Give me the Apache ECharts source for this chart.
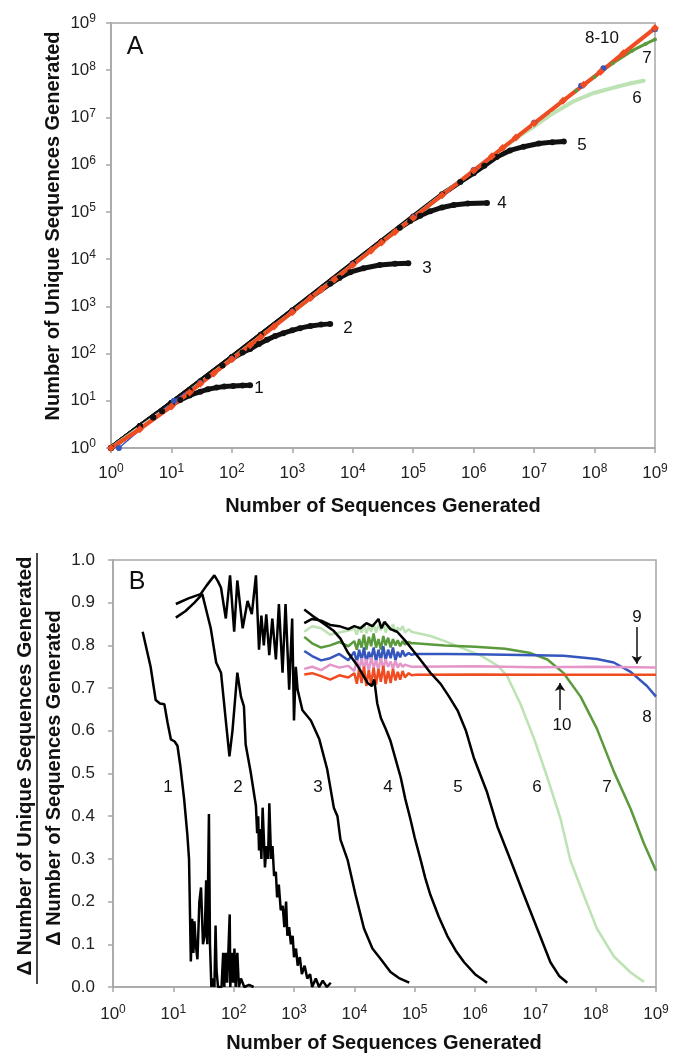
<!DOCTYPE html>
<html>
<head>
<meta charset="utf-8">
<script src="https://cdn.jsdelivr.net/npm/echarts@6.0.0/dist/echarts.min.js"></script>
<style>
  html, body { margin: 0; padding: 0; background: #fff; }
  #main { width: 676px; height: 1055px; }
</style>
</head>
<body>
<div id="main"></div>
<script>
// ---- panel A: unique sequences vs sequences generated (log-log) ----
var a1 = [[3, 2.9], [5, 4.4], [7, 6], [10, 8.3], [14, 10.4], [20, 13], [30, 15.6], [40, 17.5], [56, 19], [75, 20], [105, 20.5], [150, 21], [200, 21.3]];
var a2 = [[1, 1], [3, 2.9], [5, 4.5], [10, 9], [20, 17], [40, 33], [70, 56], [100, 78], [150, 105], [200, 125], [280, 160], [380, 195], [520, 235], [710, 270], [1000, 310], [1340, 345], [2000, 385], [3000, 410], [4230, 425]];
var a3 = [[1, 1], [3, 2.9], [10, 9], [30, 26], [100, 84], [300, 250], [1000, 810], [2000, 1550], [4230, 3000], [6000, 4000], [9100, 5300], [15000, 6400], [28000, 7500], [50000, 8000], [83000, 8200]];
var a4 = [[1, 1], [3, 2.9], [10, 9], [100, 84], [1000, 820], [10000, 8100], [30000, 24000], [60000, 46000], [89000, 64000], [130000, 83000], [191000, 103000], [300000, 124000], [468000, 140000], [800000, 150000], [1660000, 155000]];
var a5 = [[1, 1], [3, 2.9], [10, 9], [100, 84], [1000, 820], [10000, 8100], [100000, 80000], [300000, 235000], [600000, 430000], [1000000, 660000], [1500000, 950000], [2400000, 1450000], [4000000, 2000000], [6700000, 2400000], [12000000, 2800000], [20000000, 3000000], [31000000, 3100000]];
var a6 = [[1, 1], [10, 8], [100, 77], [1000, 760], [10000, 7600], [100000, 76000], [1000000, 760000], [5000000, 3600000], [10000000, 6500000], [20000000, 12000000], [45000000, 22000000], [97000000, 33000000], [240000000, 45000000], [400000000, 53000000], [650000000, 60000000]];
var a7 = [[1, 1], [10, 7.5], [100, 75], [1000, 750], [10000, 7500], [100000, 75000], [1000000, 750000], [10000000, 7500000], [50000000, 37000000], [100000000, 72000000], [200000000, 140000000], [420000000, 260000000], [700000000, 360000000], [1000000000, 450000000]];
var a8 = [[1.35, 1], [11, 10], [30, 24], [100, 78], [1000, 770], [10000, 7700], [100000, 77000], [1000000, 770000], [10000000, 7700000], [60000000, 47000000], [140000000, 110000000], [1000000000, 740000000]];
var a9 = [[1, 1], [10, 8.2], [100, 77], [1000, 760], [10000, 7600], [100000, 76000], [1000000, 760000], [10000000, 7600000], [100000000, 76000000], [1000000000, 750000000]];
var a10 = [[1, 1], [3, 2.5], [10, 7.6], [20, 15], [30, 23], [50, 38], [100, 76], [200, 150], [300, 225], [500, 375], [1000, 750], [2000, 1500], [3000, 2250], [5000, 3750], [10000, 7500], [20000, 15000], [30000, 22500], [50000, 37500], [100000, 75000], [300000, 225000], [1000000, 750000], [2000000, 1500000], [3000000, 2250000], [5000000, 3750000], [10000000, 7500000], [30000000, 22500000], [66000000, 49000000], [126000000, 93000000], [300000000, 230000000], [1000000000, 780000000]];

// ---- panel B: slope of the curves above ----
var b1 = [[3.1, 0.832], [4.2, 0.75], [5.1, 0.672], [6, 0.664], [7.1, 0.662], [8, 0.62], [9.1, 0.58], [10.5, 0.575], [11.7, 0.565], [13, 0.52], [15.1, 0.44], [17, 0.36], [18.2, 0.3], [19, 0.15], [19.5, 0.06], [20.5, 0.16], [21.5, 0.08], [22.4, 0.154], [23.5, 0.1], [25.1, 0.065], [27, 0.2], [28.8, 0.233], [30, 0.16], [31, 0.1], [33.1, 0.12], [35, 0.25], [36.5, 0.1], [38.9, 0.405], [40.5, 0.1], [42.7, 0], [46, 0.02], [48, 0], [50.1, 0.144], [52, 0.04], [55, 0], [63, 0], [67, 0.08], [70, 0], [74, 0.08], [78, 0.01], [82, 0.09], [86, 0.17], [88, 0], [93, 0.08], [98, 0.01], [103, 0.09], [108, 0], [115, 0.08], [122, 0], [132, 0.02], [150, 0], [180, 0.005], [214, 0]];
var b2 = [[11, 0.865], [15.8, 0.88], [22.4, 0.9], [30.2, 0.92], [35.5, 0.88], [41.7, 0.84], [51.3, 0.76], [61.7, 0.736], [74.1, 0.624], [85.1, 0.54], [95.5, 0.6], [115, 0.736], [132, 0.68], [148, 0.657], [158, 0.568], [191, 0.504], [234, 0.424], [245, 0.36], [255, 0.4], [263, 0.32], [275, 0.37], [288, 0.3], [302, 0.42], [316, 0.35], [330, 0.28], [350, 0.33], [372, 0.3], [390, 0.43], [417, 0.3], [440, 0.33], [468, 0.26], [500, 0.27], [525, 0.21], [560, 0.24], [603, 0.18], [650, 0.19], [692, 0.14], [740, 0.2], [776, 0.12], [830, 0.14], [891, 0.1], [950, 0.12], [1000, 0.07], [1080, 0.09], [1150, 0.05], [1250, 0.07], [1350, 0.03], [1500, 0.05], [1660, 0.02], [1850, 0.03], [2000, 0], [2300, 0.02], [2600, 0], [3000, 0.015], [3500, 0], [4074, 0.01]];
var b3 = [[11, 0.897], [17.8, 0.91], [28.2, 0.92], [35.5, 0.94], [47.9, 0.964], [55, 0.95], [61.7, 0.935], [74.1, 0.863], [87.1, 0.964], [102, 0.832], [115, 0.952], [141, 0.84], [170, 0.904], [200, 0.873], [234, 0.964], [263, 0.79], [288, 0.87], [316, 0.8], [347, 0.873], [389, 0.777], [437, 0.863], [501, 0.767], [562, 0.897], [646, 0.736], [724, 0.897], [832, 0.696], [933, 0.863], [1000, 0.624], [1072, 0.75], [1148, 0.696], [1380, 0.648], [1905, 0.624], [2630, 0.58], [3548, 0.51], [4571, 0.42], [5248, 0.4], [5888, 0.345], [7762, 0.297], [10470, 0.216], [14450, 0.137], [19950, 0.09], [27540, 0.065], [39810, 0.035], [56230, 0.02], [81280, 0.01]];
var b4 = [[1479, 0.884], [2239, 0.865], [3162, 0.85], [4467, 0.835], [5888, 0.816], [7762, 0.784], [11220, 0.753], [16600, 0.712], [19500, 0.705], [21380, 0.72], [23990, 0.664], [27540, 0.63], [33000, 0.605], [39810, 0.576], [48000, 0.535], [58880, 0.49], [70000, 0.44], [85110, 0.393], [100000, 0.35], [125900, 0.297], [150000, 0.255], [182000, 0.216], [250000, 0.165], [346700, 0.12], [480000, 0.085], [660700, 0.058], [1000000, 0.03], [1585000, 0.01]];
var b5 = [[1479, 0.852], [1995, 0.862], [2818, 0.858], [3981, 0.848], [5623, 0.845], [7943, 0.838], [10000, 0.845], [12590, 0.84], [15850, 0.852], [19950, 0.845], [25120, 0.862], [28180, 0.84], [31620, 0.855], [39810, 0.838], [51290, 0.832], [70790, 0.81], [97720, 0.785], [134900, 0.76], [182000, 0.736], [269200, 0.71], [371500, 0.68], [512900, 0.648], [707900, 0.6], [955000, 0.537], [1585000, 0.456], [2344000, 0.376], [3890000, 0.297], [6457000, 0.216], [10720000, 0.137], [17780000, 0.058], [25120000, 0.025], [33880000, 0.01]];

// curves 6-10 share the noisy start, then each has its own tail
var bx = [1479, 1995, 2818, 3981, 5623, 7943, 10000, 11000, 12020, 13200, 14450, 15800, 17380, 19000, 20890, 22900, 25120, 27500, 30200, 33000, 36310, 40000, 43650, 48000, 52480, 57500, 63100, 69000, 79430, 89000];
var b6Head = [0.832, 0.845, 0.84, 0.825, 0.83, 0.835, 0.84, 0.825, 0.845, 0.83, 0.85, 0.828, 0.845, 0.832, 0.852, 0.83, 0.848, 0.835, 0.855, 0.83, 0.845, 0.835, 0.85, 0.83, 0.842, 0.835, 0.845, 0.83, 0.838, 0.832];
var b6Tail = [[100000, 0.83], [182000, 0.822], [316200, 0.81], [660700, 0.792], [1259000, 0.776], [2344000, 0.753], [3388000, 0.729], [5623000, 0.664], [9333000, 0.585], [15850000, 0.49], [26300000, 0.393], [38020000, 0.297], [63100000, 0.216], [104700000, 0.137], [199500000, 0.072], [380200000, 0.034], [631000000, 0.012]];
var b7Head = [0.82, 0.805, 0.795, 0.8, 0.808, 0.798, 0.81, 0.79, 0.815, 0.795, 0.825, 0.79, 0.82, 0.798, 0.828, 0.795, 0.815, 0.79, 0.822, 0.8, 0.818, 0.795, 0.815, 0.8, 0.812, 0.798, 0.81, 0.802, 0.808, 0.805];
var b7Tail = [[100000, 0.805], [316200, 0.8], [1000000, 0.797], [3162000, 0.792], [8318000, 0.782], [15850000, 0.767], [29510000, 0.735], [56230000, 0.68], [104700000, 0.605], [199500000, 0.505], [380200000, 0.417], [631000000, 0.336], [1000000000, 0.272]];
var b8Head = [0.787, 0.775, 0.765, 0.77, 0.78, 0.765, 0.785, 0.76, 0.79, 0.765, 0.795, 0.76, 0.785, 0.768, 0.795, 0.762, 0.79, 0.765, 0.798, 0.765, 0.79, 0.77, 0.795, 0.765, 0.785, 0.772, 0.788, 0.775, 0.782, 0.778];
var b8Tail = [[100000, 0.78], [316200, 0.78], [1000000, 0.779], [10000000, 0.777], [29510000, 0.776], [104700000, 0.768], [199500000, 0.76], [380200000, 0.738], [707900000, 0.705], [1000000000, 0.68]];
var b9Head = [0.745, 0.75, 0.742, 0.755, 0.748, 0.752, 0.74, 0.765, 0.742, 0.77, 0.745, 0.768, 0.74, 0.772, 0.748, 0.765, 0.742, 0.77, 0.745, 0.768, 0.75, 0.762, 0.745, 0.765, 0.748, 0.758, 0.75, 0.755, 0.752, 0.75];
var b9Tail = [[100000, 0.75], [1000000, 0.751], [10000000, 0.749], [100000000, 0.75], [1000000000, 0.748]];
var b10Head = [0.732, 0.735, 0.728, 0.72, 0.73, 0.725, 0.735, 0.71, 0.745, 0.712, 0.75, 0.705, 0.742, 0.71, 0.748, 0.708, 0.745, 0.715, 0.752, 0.71, 0.74, 0.712, 0.745, 0.718, 0.738, 0.72, 0.74, 0.725, 0.735, 0.73];
var b10Tail = [[100000, 0.731], [1000000, 0.732], [10000000, 0.731], [100000000, 0.731], [1000000000, 0.731]];

var yTicksB = [0, 1, 0.1];  // min, max, step

function joinB(head, tail) {
  return bx.map(function (x, i) { return [x, head[i]]; }).concat(tail);
}

var FONT = "'Liberation Sans', Arial, sans-serif";
var GRAY = '#a6a6a6';
var C6 = '#bde2b3', C7 = '#5b9a3c', C8 = '#3456bd', C9 = '#e596c9', C10 = '#f04c22';

var richPow = {
  b: { fontSize: 17, fontFamily: FONT, color: '#222', lineHeight: 20 },
  s: { fontSize: 12, fontFamily: FONT, color: '#222', verticalAlign: 'top', lineHeight: 12 }
};
function powLabel(v) {
  return '{b|10}{s|' + Math.round(Math.log10(v)) + '}';
}

function logAxis(gi, margin) {
  return {
    type: 'log', logBase: 10, gridIndex: gi, min: 1, max: 1e9, splitNumber: 9,
    axisLine: { lineStyle: { color: GRAY, width: 1.5 } },
    axisTick: { length: 5, lineStyle: { color: GRAY, width: 1.5 } },
    splitLine: { show: false },
    axisLabel: { margin: margin, formatter: powLabel, rich: richPow }
  };
}

function lineA(data, color, width, sym, size) {
  return {
    type: 'line', xAxisIndex: 0, yAxisIndex: 0, data: data,
    showSymbol: !!sym, symbol: sym || 'none', symbolSize: size || 0,
    itemStyle: { color: color }, lineStyle: { color: color, width: width },
    silent: true
  };
}
function lineB(data, color, width) {
  return {
    type: 'line', xAxisIndex: 1, yAxisIndex: 1, data: data, showSymbol: false,
    lineStyle: { color: color, width: width }, itemStyle: { color: color }, silent: true
  };
}

function txt(x, y, s, size, bold, rot) {
  return {
    type: 'text', x: x, y: y, rotation: rot || 0, silent: true,
    style: { text: s, fill: '#111', align: 'center', verticalAlign: 'middle',
      font: (bold ? 'bold ' : '') + size + 'px ' + FONT }
  };
}

var chart = echarts.init(document.getElementById('main'));
var option = {
  animation: false,
  backgroundColor: '#fff',
  grid: [
    { left: 111, top: 23, width: 544, height: 425, show: true, borderColor: GRAY, borderWidth: 1.5 },
    { left: 113, top: 560, width: 543, height: 427, show: true, borderColor: GRAY, borderWidth: 1.5 }
  ],
  xAxis: [logAxis(0, 15), logAxis(1, 17)],
  yAxis: [
    Object.assign(logAxis(0, 15), { gridIndex: 0 }),
    {
      type: 'value', gridIndex: 1, min: yTicksB[0], max: yTicksB[1], interval: yTicksB[2],
      axisLine: { show: true, lineStyle: { color: GRAY, width: 1.5 } },
      axisTick: { show: true, length: 5, lineStyle: { color: GRAY, width: 1.5 } },
      splitLine: { show: false },
      axisLabel: { margin: 18, fontSize: 17, fontFamily: FONT, color: '#222',
        formatter: function (v) { return v.toFixed(1); } }
    }
  ],
  series: [
    lineA(a1, '#111', 5, 'circle', 6),
    lineA(a2, '#111', 5, 'circle', 6),
    lineA(a3, '#111', 5, 'circle', 6),
    lineA(a4, '#111', 5, 'circle', 6),
    lineA(a5, '#111', 5, 'circle', 6),
    lineA(a6, C6, 4, 'circle', 4),
    lineA(a7, C7, 3, 'circle', 4),
    lineA(a8, C8, 1.5, 'circle', 6),
    lineA(a9, C9, 1.5),
    lineA(a10, C10, 4, 'diamond', 8),

    lineB(joinB(b6Head, b6Tail), C6, 2.5),
    lineB(joinB(b7Head, b7Tail), C7, 2.5),
    lineB(joinB(b8Head, b8Tail), C8, 2.5),
    lineB(joinB(b9Head, b9Tail), C9, 2.5),
    Object.assign(lineB(joinB(b10Head, b10Tail), C10, 2.5), {
      markLine: {
        silent: true, symbol: ['none', 'arrow'], symbolSize: 8,
        label: { show: false },
        lineStyle: { color: '#111', width: 1.5, type: 'solid' },
        data: [
          [{ coord: [4.8e8, 0.843] }, { coord: [4.8e8, 0.757] }],
          [{ coord: [2.57e7, 0.649] }, { coord: [2.57e7, 0.712] }]
        ]
      }
    }),
    lineB(b1, '#000', 2.5),
    lineB(b2, '#000', 2.5),
    lineB(b3, '#000', 2.5),
    lineB(b4, '#000', 2.5),
    lineB(b5, '#000', 2.5)
  ],
  graphic: [
    txt(135, 47, 'A', 25),
    txt(137, 582, 'B', 25),
    txt(383, 506, 'Number of Sequences Generated', 20, true),
    txt(384, 1043, 'Number of Sequences Generated', 20, true),
    txt(53, 226, 'Number of Unique Sequences Generated', 20, true, Math.PI / 2),
    txt(25, 766, '\u0394 Number of Unique Sequences Generated', 20.5, true, Math.PI / 2),
    txt(54, 778, '\u0394 Number of Sequences Generated', 20, true, Math.PI / 2),
    { type: 'line', silent: true, shape: { x1: 37, y1: 553, x2: 37, y2: 984 },
      style: { stroke: '#111', lineWidth: 1.5 } },
    // curve labels, panel A
    txt(259, 388, '1', 17), txt(348, 328, '2', 17), txt(427, 268, '3', 17),
    txt(502, 203, '4', 17), txt(582, 145, '5', 17), txt(637, 98, '6', 17),
    txt(647, 58, '7', 17), txt(602, 38, '8-10', 17),
    // curve labels, panel B
    txt(168, 787, '1', 17), txt(238, 787, '2', 17), txt(318, 787, '3', 17),
    txt(388, 787, '4', 17), txt(458, 787, '5', 17), txt(537, 787, '6', 17),
    txt(607, 787, '7', 17), txt(647, 717, '8', 17), txt(637, 617, '9', 17),
    txt(562, 725, '10', 17)
  ]
};
chart.setOption(option);
window.addEventListener('resize', function () { chart.resize(); });
</script>
</body>
</html>
